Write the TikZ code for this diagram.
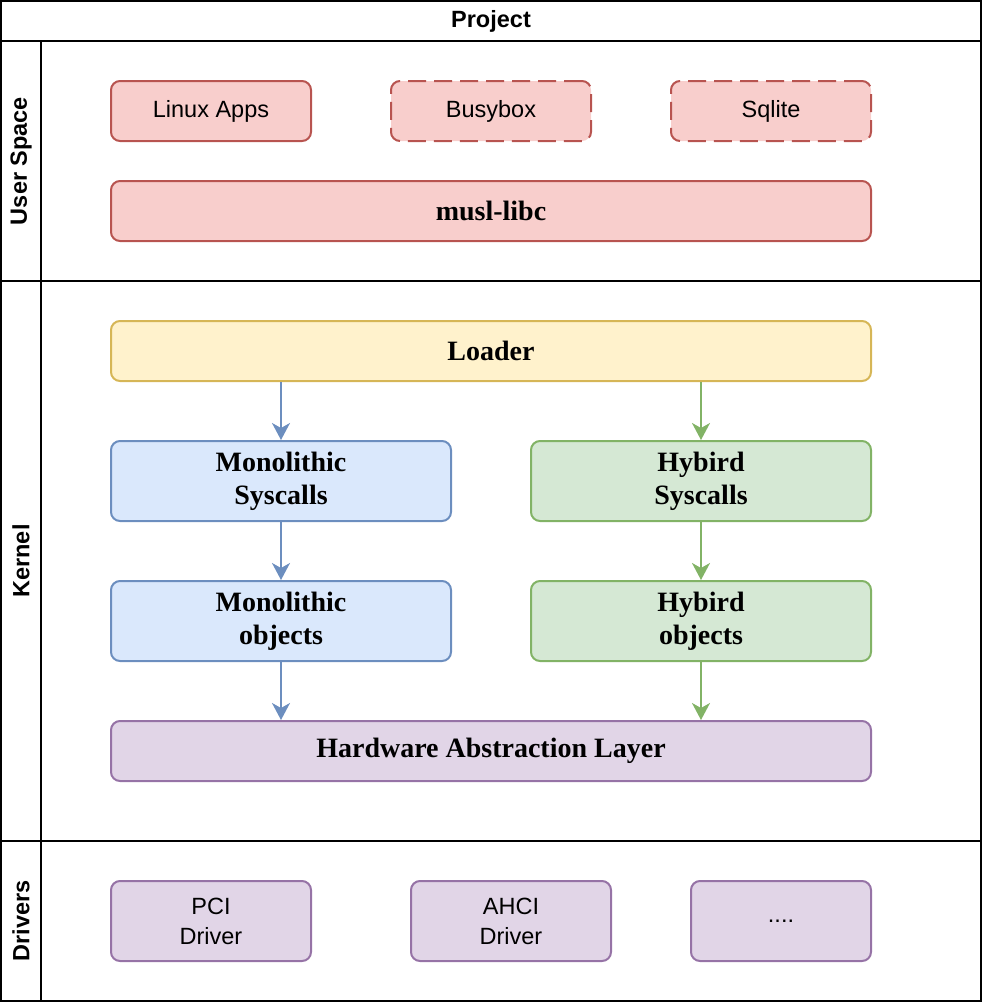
\documentclass[tikz,border=0pt]{standalone}
\usepackage{fontspec}
\setmainfont{Liberation Serif}
\setsansfont{Liberation Sans}
\usetikzlibrary{arrows.meta}

\definecolor{redfill}{HTML}{F8CECC}
\definecolor{redline}{HTML}{B85450}
\definecolor{yellowfill}{HTML}{FFF2CC}
\definecolor{yellowline}{HTML}{D6B656}
\definecolor{bluefill}{HTML}{DAE8FC}
\definecolor{blueline}{HTML}{6C8EBF}
\definecolor{greenfill}{HTML}{D5E8D4}
\definecolor{greenline}{HTML}{82B366}
\definecolor{purplefill}{HTML}{E1D5E7}
\definecolor{purpleline}{HTML}{9673A6}

\tikzset{
  box/.style={draw,rounded corners=9pt,line width=2pt,align=center,inner sep=0pt},
  sanslabel/.style={font=\sffamily\fontsize{23.5}{30}\selectfont},
  seriflabel/.style={font=\rmfamily\bfseries\fontsize{28}{33}\selectfont},
  redbox/.style={box,sanslabel,fill=redfill,draw=redline,minimum width=200pt,minimum height=60pt},
  purplebox/.style={box,fill=purplefill,draw=purpleline},
  lanetitle/.style={font=\sffamily\bfseries\fontsize{23.5}{28}\selectfont,rotate=90},
  flow/.style={line width=2pt,-{Stealth[length=17pt,width=18pt,inset=5pt]}}
}

\begin{document}
\begin{tikzpicture}[x=1pt,y=-1pt]
  \useasboundingbox (0,0) rectangle (982,1002);

  % lanes
  \draw[line width=2pt] (1,1) rectangle (981,1001);
  \foreach \y in {41,281,841} {
    \draw[line width=2pt] (1,\y) -- (981,\y);
  }
  \draw[line width=2pt] (41,41) -- (41,1001);
  \node[font=\sffamily\bfseries\fontsize{23.5}{28}\selectfont] (project) at (491,21) {Project};
  \node[lanetitle] (userspace) at (21,161) {User Space};
  \node[lanetitle] (kernel) at (21,561) {Kernel};
  \node[lanetitle] (drivers) at (21,921) {Drivers};

  % user space
  \node[redbox] (apps) at (211,111) {Linux Apps};
  \node[redbox,dash pattern=on 18pt off 8pt] (busybox) at (491,111) {Busybox};
  \node[redbox,dash pattern=on 18pt off 8pt] (sqlite) at (771,111) {Sqlite};
  \node[box,seriflabel,fill=redfill,draw=redline,minimum width=760pt,minimum height=60pt] (musl) at (491,211) {musl-libc};

  % kernel
  \node[box,seriflabel,fill=yellowfill,draw=yellowline,minimum width=760pt,minimum height=60pt] (loader) at (491,351) {Loader};
  \node[box,seriflabel,fill=bluefill,draw=blueline,minimum width=340pt,minimum height=80pt] (monosys) at (281,481) {Monolithic\\Syscalls};
  \node[box,seriflabel,fill=greenfill,draw=greenline,minimum width=340pt,minimum height=80pt] (hybsys) at (701,481) {Hybird\\Syscalls};
  \node[box,seriflabel,fill=bluefill,draw=blueline,minimum width=340pt,minimum height=80pt] (monoobj) at (281,621) {Monolithic\\objects};
  \node[box,seriflabel,fill=greenfill,draw=greenline,minimum width=340pt,minimum height=80pt] (hybobj) at (701,621) {Hybird\\objects};
  \node[purplebox,seriflabel,minimum width=760pt,minimum height=60pt] (hal) at (491,751) {Hardware Abstraction Layer};

  \draw[flow,blueline] (loader.south -| monosys) -- (monosys.north);
  \draw[flow,blueline] (monosys) -- (monoobj);
  \draw[flow,blueline] (monoobj.south) -- (hal.north -| monoobj);
  \draw[flow,greenline] (loader.south -| hybsys) -- (hybsys.north);
  \draw[flow,greenline] (hybsys) -- (hybobj);
  \draw[flow,greenline] (hybobj.south) -- (hal.north -| hybobj);

  % drivers
  \node[purplebox,sanslabel,minimum width=200pt,minimum height=80pt] (pci) at (211,921) {PCI\\Driver};
  \node[purplebox,sanslabel,minimum width=200pt,minimum height=80pt] (ahci) at (511,921) {AHCI\\Driver};
  \node[purplebox,sanslabel,minimum width=180pt,minimum height=80pt] (more) at (781,921) {....};
\end{tikzpicture}
\end{document}
